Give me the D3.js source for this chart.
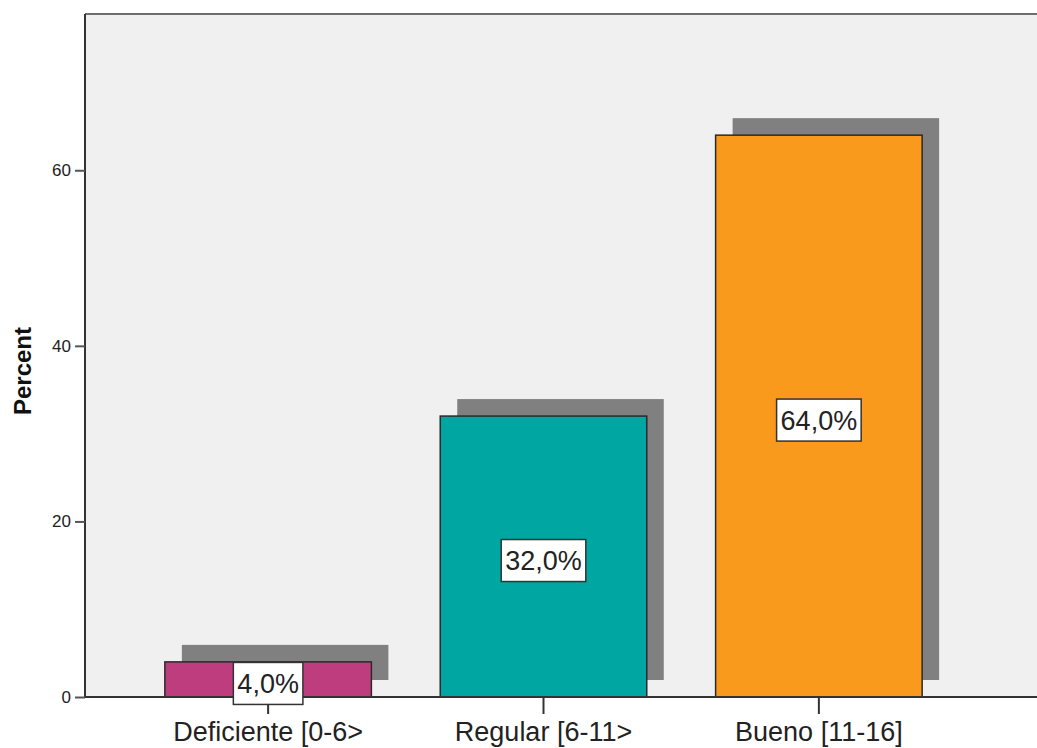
<!DOCTYPE html>
<html>
<head>
<meta charset="utf-8">
<script src="https://cdn.jsdelivr.net/npm/d3@7"></script>
<style>
  html, body { margin: 0; padding: 0; background: #ffffff; }
  svg { display: block; font-family: "Liberation Sans", Arial, sans-serif; }
</style>
</head>
<body>
<svg id="chart" width="1037" height="748"></svg>
<script>
const categories = ["Deficiente [0-6>", "Regular [6-11>", "Bueno [11-16]"];
const percents = [4.0, 32.0, 64.0];
const barColors = ["#BE3D7E", "#00A6A1", "#F99A1D"];
const yTicks = [0, 20, 40, 60];
const yLabel = "Percent";

const svg = d3.select("#chart");
const plot = { left: 85, top: 14, right: 1045, bottom: 697 };

const y = d3.scaleLinear().domain([0, 77.8]).range([plot.bottom, plot.top]);
const x = d3.scaleBand().domain(categories).range([plot.left, 1002])
  .paddingInner(0.25).paddingOuter(0.29);

// plot background
svg.append("rect")
  .attr("x", plot.left).attr("y", plot.top)
  .attr("width", plot.right - plot.left).attr("height", plot.bottom - plot.top)
  .attr("fill", "#F0F0F0");

// top border
svg.append("line")
  .attr("x1", plot.left).attr("x2", plot.right)
  .attr("y1", plot.top).attr("y2", plot.top)
  .attr("stroke", "#6E6E6E").attr("stroke-width", 2);

const data = categories.map((c, i) => ({ cat: c, val: percents[i], color: barColors[i] }));
const sh = 17;

// shadows
svg.append("g").selectAll("rect").data(data).join("rect")
  .attr("x", d => x(d.cat) + sh)
  .attr("y", d => y(d.val) - sh)
  .attr("width", x.bandwidth())
  .attr("height", d => y(0) - y(d.val))
  .attr("fill", "#808080");

// bars
svg.append("g").selectAll("rect").data(data).join("rect")
  .attr("x", d => x(d.cat))
  .attr("y", d => y(d.val))
  .attr("width", x.bandwidth())
  .attr("height", d => y(0) - y(d.val))
  .attr("fill", d => d.color)
  .attr("stroke", "#2a2a2a").attr("stroke-width", 1.5);

// y axis
const yAxis = d3.axisLeft(y).tickValues(yTicks).tickSize(10).tickPadding(4).tickFormat(d3.format("d"));
const gy = svg.append("g").attr("transform", `translate(${plot.left},0)`).call(yAxis);
gy.select(".domain").attr("stroke", "#333").attr("stroke-width", 2)
  .attr("d", `M0,${plot.top}V${plot.bottom}`);
gy.selectAll(".tick line").attr("stroke", "#555").attr("stroke-width", 2);
gy.selectAll(".tick text").attr("font-size", 17).attr("fill", "#222")
  .attr("font-family", "Liberation Sans, Arial, sans-serif");

// x axis
const xAxis = d3.axisBottom(x).tickSize(17).tickPadding(8);
const gx = svg.append("g").attr("transform", `translate(0,${plot.bottom})`).call(xAxis);
gx.select(".domain").attr("stroke", "#333").attr("stroke-width", 2)
  .attr("d", `M${plot.left},0H${plot.right}`);
gx.selectAll(".tick line").attr("stroke", "#333").attr("stroke-width", 2);
gx.selectAll(".tick text").attr("font-size", 27).attr("fill", "#222")
  .attr("font-family", "Liberation Sans, Arial, sans-serif");

// value labels
const fmt = v => d3.format(".1f")(v).replace(".", ",") + "%";
const lbl = svg.append("g").selectAll("g").data(data).join("g")
  .attr("transform", d => `translate(${x(d.cat) + x.bandwidth() / 2},${(y(d.val) + y(0)) / 2 + 4})`);
const boxes = lbl.append("rect")
  .attr("y", -21).attr("height", 42)
  .attr("fill", "#ffffff").attr("stroke", "#333").attr("stroke-width", 1.5);
const texts = lbl.append("text")
  .attr("text-anchor", "middle").attr("dy", "0.36em")
  .attr("font-size", 27).attr("fill", "#222")
  .text(d => fmt(d.val));
texts.each(function() {
  const w = this.getComputedTextLength() + 8;
  d3.select(this.parentNode).select("rect").attr("x", -w / 2).attr("width", w);
});

// y label
svg.append("text")
  .attr("transform", `translate(31,371) rotate(-90)`)
  .attr("text-anchor", "middle")
  .attr("font-size", 24).attr("font-weight", "bold").attr("fill", "#111")
  .text(yLabel);
</script>
</body>
</html>
